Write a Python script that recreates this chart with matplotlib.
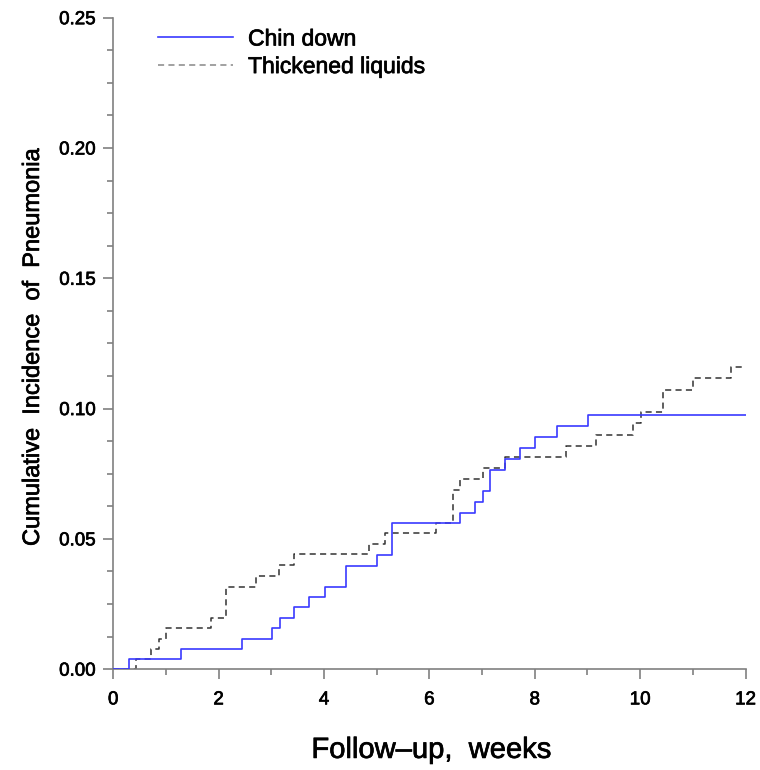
import matplotlib
matplotlib.use("Agg")
import matplotlib.pyplot as plt
import matplotlib.patheffects as pe
from matplotlib.ticker import MultipleLocator, FormatStrFormatter

plt.rcParams['font.family'] = ['Liberation Sans', 'DejaVu Sans']

# Chin down: step times (weeks) and cumulative incidence
chin_weeks = [0, 0.29, 1.29, 2.44, 3.01, 3.16, 3.43, 3.72, 4.01, 4.42, 5.01,
              5.29, 6.58, 6.86, 7.01, 7.15, 7.44, 7.72, 8.01, 8.43, 9.01, 12]
chin_inc = [0, 0.0038, 0.0078, 0.0117, 0.0157, 0.0196, 0.0237, 0.0277, 0.0315,
            0.0396, 0.0438, 0.0559, 0.0600, 0.0641, 0.0683, 0.0765, 0.0808,
            0.0850, 0.0891, 0.0932, 0.0976, 0.0976]

# Thickened liquids
thick_weeks = [0, 0.43, 0.72, 0.86, 1.00, 1.86, 2.14, 2.71, 3.14, 3.43, 4.86,
               5.15, 6.13, 6.44, 6.58, 7.01, 7.43, 8.59, 9.17, 9.87, 10.01,
               10.44, 11.01, 11.72, 12]
thick_inc = [0, 0.0040, 0.0076, 0.0115, 0.0157, 0.0196, 0.0317, 0.0358, 0.0399,
             0.0440, 0.0480, 0.0521, 0.0562, 0.0688, 0.0730, 0.0772, 0.0815,
             0.0858, 0.0900, 0.0943, 0.0987, 0.1072, 0.1117, 0.1160, 0.1160]

fig = plt.figure(figsize=(7.6, 7.7), dpi=100)
ax = fig.add_axes([0.149, 0.131, 0.832, 0.846])

ax.step(thick_weeks, thick_inc, where='post', color='#333333', lw=1.1,
        linestyle=(0, (4, 2.8)), label='Thickened liquids', zorder=2)
ax.step(chin_weeks, chin_inc, where='post', color='#3a3aff', lw=1.2,
        label='Chin down', zorder=3)

ax.set_xlim(0, 12)
ax.set_ylim(0, 0.25)
ax.xaxis.set_major_locator(MultipleLocator(2))
ax.xaxis.set_minor_locator(MultipleLocator(1))
ax.yaxis.set_major_locator(MultipleLocator(0.05))
ax.yaxis.set_minor_locator(MultipleLocator(0.0125))
ax.yaxis.set_major_formatter(FormatStrFormatter('%.2f'))

for s in ['top', 'right']:
    ax.spines[s].set_visible(False)
for s in ['left', 'bottom']:
    ax.spines[s].set_color('#808080')
    ax.spines[s].set_linewidth(1.2)

ax.tick_params(which='major', length=7, width=1.2, color='#808080',
               labelsize=13.5, labelcolor='black')
ax.tick_params(which='minor', length=4, width=1.2, color='#808080')
ax.tick_params(axis='y', which='major', pad=5.5)
ax.tick_params(axis='x', which='major', pad=9)

ax.set_xlabel('Follow\u2013up,  weeks', fontsize=21, va='center')
ax.xaxis.set_label_coords(0.503, -0.124)
ax.set_ylabel('Cumulative  Incidence  of  Pneumonia', fontsize=17, va='center')
ax.yaxis.set_label_coords(-0.127, 0.495)

handles, labels = ax.get_legend_handles_labels()
leg = ax.legend(handles[::-1], labels[::-1], loc='upper left',
                bbox_to_anchor=(0.07, 0.985), frameon=False, fontsize=16.5,
                handlelength=3.3, handletextpad=0.65, labelspacing=0.2,
                borderpad=0, borderaxespad=0)
leg.get_lines()[1].set_color('#888888')

# slightly heavier text, like the original
heavy = [pe.withStroke(linewidth=0.5, foreground='black')]
texts = (ax.get_xticklabels() + ax.get_yticklabels() + leg.get_texts()
         + [ax.xaxis.label, ax.yaxis.label])
for t in texts:
    t.set_path_effects(heavy)

fig.savefig('out.png', dpi=100)
